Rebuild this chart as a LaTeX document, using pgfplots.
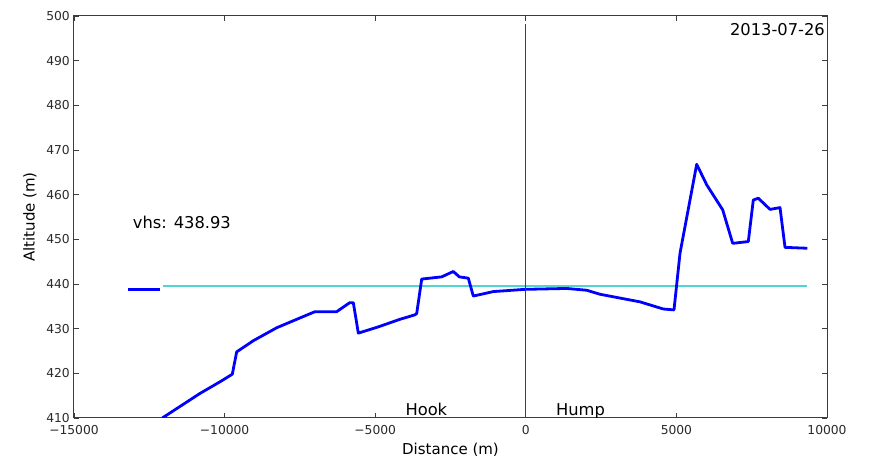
\documentclass[border=0pt]{standalone}
\usepackage{pgfplots}
\pgfplotsset{compat=1.18}
\usetikzlibrary{calc}
\usepackage{fontspec}
\setmainfont{DejaVu Sans}
\definecolor{axgray}{RGB}{60,60,60}
\definecolor{vhscyan}{RGB}{80,212,212}
\newcommand{\annfont}{\fontsize{16.3}{19}\selectfont}
\newcommand{\labfont}{\fontsize{15}{18}\selectfont}
\begin{document}
\begin{tikzpicture}
\fontsize{12}{15}\selectfont
\begin{axis}[
  name=ax,
  scale only axis,
  width=753pt, height=402pt,
  xmin=-15000, xmax=10000,
  ymin=410, ymax=500,
  scaled x ticks=false,
  scaled y ticks=false,
  xtick={-15000,-10000,-5000,0,5000,10000},
  xticklabels={−15000,−10000,−5000,0,5000,10000},
  ytick={410,420,...,500},
  yticklabels={410,420,430,440,450,460,470,480,490,500},
  tick align=inside,
  major tick length=5pt,
  axis line style={axgray, line width=1pt},
  every tick/.style={axgray, line width=0.8pt},
  xticklabel style={inner sep=0pt, anchor=north, yshift=-7pt, font=\fontsize{12.3}{15}\selectfont, text=axgray!70!black},
  yticklabel style={inner sep=0pt, anchor=east, xshift=-4pt, font=\fontsize{12.3}{15}\selectfont, text=axgray!70!black},
  clip=true,
]
% reference altitude (vhs)
\addplot[color=vhscyan, solid, line width=1.8pt] coordinates {(-12045,439.6) (9346,439.6)};
% isolated start segment
\addplot[color=blue, solid, line width=2.8pt] coordinates {(-13207,438.8) (-12145,438.8)};
% altitude profile along the line
\addplot[color=blue, solid, line width=2.8pt, line join=round] coordinates {
(-12068,410.0) (-10817,415.5) (-10153,418.1) (-9744,419.8) (-9599,424.8)
(-9047,427.3) (-8271,430.2) (-7497,432.4) (-6999,433.8) (-6278,433.8)
(-5850,435.8) (-5726,435.8) (-5560,429.0) (-4897,430.4) (-4177,432.1)
(-3678,433.1) (-3622,433.4) (-3456,441.1) (-2792,441.6) (-2407,442.8)
(-2207,441.6) (-1909,441.3) (-1743,437.3) (-1079,438.3) (-27,438.8)
(1357,439.0) (2021,438.6) (2463,437.7) (3791,436.0) (4565,434.4)
(4920,434.2) (5120,446.9) (5674,466.8) (6006,462.2) (6537,456.6)
(6869,449.1) (7387,449.5) (7553,458.8) (7719,459.2) (8108,456.7)
(8440,457.1) (8606,448.2) (9346,448.0)
};
% zero-distance marker
\addplot[color=black!75, solid, line width=1.2pt] coordinates {(0,410) (0,498.3)};
\node[anchor=base west, inner sep=0pt, font=\annfont] at (axis cs:-4000,410) [yshift=2.5pt] {Hook};
\node[anchor=base west, inner sep=0pt, font=\annfont] at (axis cs:1000,410) [yshift=2.5pt] {Hump};
\node[anchor=west, inner sep=0pt, font=\annfont] at (axis cs:-13050,453.7) {vhs: 438.93};
\node[anchor=east, inner sep=0pt, font=\annfont] at (rel axis cs:1,1) [xshift=-2pt, yshift=-14pt] {2013-07-26};
\end{axis}
\node[anchor=center, font=\labfont] at ($(ax.south west)!0.5!(ax.south east)+(0,-32pt)$) {Distance (m)};
\node[anchor=center, rotate=90, font=\labfont] at ($(ax.south west)!0.5!(ax.north west)+(-44pt,0)$) {Altitude (m)};
\pgfresetboundingbox
\path[use as bounding box] ([xshift=-74pt, yshift=-39pt]ax.south west) rectangle ([xshift=42pt, yshift=16pt]ax.north east);
\end{tikzpicture}
\end{document}
